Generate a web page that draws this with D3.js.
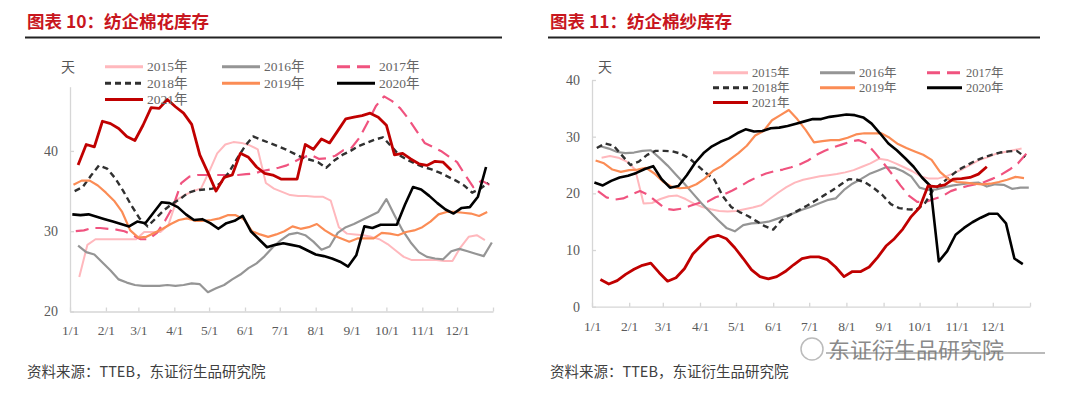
<!DOCTYPE html>
<html><head><meta charset="utf-8">
<script src="https://cdn.jsdelivr.net/npm/d3@7"></script>
<style>body{margin:0;background:#fff}svg{display:block}</style>
</head><body><svg id="c" width="1080" height="398"></svg>
<script>
// ---------------- DATA ----------------
const years = ["2015年","2016年","2017年","2018年","2019年","2020年","2021年"];
// first weekly observation of each year (month, day); later points are weekly
const startDays = [[1,9],[1,8],[1,6],[1,5],[1,4],[1,3],[1,8]];
const monthLabels = ["1/1","2/1","3/1","4/1","5/1","6/1","7/1","8/1","9/1","10/1","11/1","12/1"];
const cottonTicks = [20,30,40];
const yarnTicks = [0,10,20,30,40];
const unitLabel = "天";

// 纺企棉花库存 (days)
const cotton2015 = [24.3,28.3,29.0,29.0,29.0,29.0,29.0,29.0,29.9,29.9,29.9,30.8,33.9,34.5,35.0,35.3,37.4,39.7,40.8,41.1,41.0,40.7,40.2,36.0,35.3,34.9,34.5,34.4,34.4,34.3,34.3,33.8,30.5,29.7,29.6,29.5,29.3,29.0,28.4,27.6,26.8,26.4,26.4,26.4,26.4,26.3,26.3,28.0,29.3,29.5,28.9];
const cotton2016 = [28.2,27.4,27.1,26.1,25.1,24.0,23.6,23.3,23.2,23.2,23.2,23.3,23.2,23.3,23.5,23.4,22.4,22.9,23.3,24.0,24.6,25.4,26.0,26.9,28.0,28.9,29.6,29.8,29.5,28.7,27.7,28.1,29.8,30.5,30.9,31.4,31.9,32.4,34.0,32.0,30.1,28.6,27.4,26.8,26.6,26.5,27.5,27.8,27.5,27.2,26.9,28.6];
const cotton2017 = [30.0,30.1,30.4,30.4,30.3,30.2,30.0,29.5,29.0,29.0,29.8,31.3,33.1,36.0,36.8,37.0,37.0,37.0,37.0,37.0,37.0,37.1,37.2,37.5,37.7,37.9,38.2,38.7,39.2,39.5,39.0,39.1,39.4,40.1,40.4,41.7,43.6,45.6,46.8,46.2,45.3,44.0,42.5,41.0,40.5,40.0,39.3,38.6,37.0,35.5,36.3,35.8];
const cotton2018 = [35.0,35.5,36.9,38.2,37.8,36.6,35.0,33.2,31.6,30.6,31.6,32.6,33.4,34.0,34.8,35.1,35.2,35.3,36.0,37.3,39.0,40.6,41.8,41.4,41.0,40.6,40.2,39.7,39.2,38.9,38.6,37.9,38.8,39.5,40.0,40.6,41.0,41.4,41.7,40.6,39.5,38.9,38.4,38.0,37.7,37.3,36.8,36.3,35.7,34.8,35.3,36.0];
const cotton2019 = [35.8,36.3,36.3,35.7,34.8,33.8,32.4,30.1,29.2,29.3,29.8,30.3,30.9,31.4,31.6,31.3,31.3,31.4,31.6,32.0,32.0,31.5,30.0,29.6,29.3,29.6,30.0,30.6,30.3,30.5,30.9,30.1,29.5,29.1,28.7,29.1,29.1,29.1,29.8,29.7,29.5,29.9,30.1,30.5,31.2,32.1,32.4,32.4,32.3,32.2,31.9,32.4];
const cotton2020 = [32.1,32.0,32.1,31.8,31.5,31.2,30.9,30.6,31.2,31.0,32.3,33.6,33.5,33.0,32.1,31.4,31.5,31.0,30.3,31.0,31.3,31.9,30.0,29.0,28.0,28.3,28.5,28.3,28.1,27.6,27.1,26.9,26.6,26.2,25.6,27.0,30.6,30.4,30.8,30.8,30.8,33.3,35.5,35.2,34.4,33.5,32.7,32.2,32.9,33.0,34.3,38.0];
const cotton2021 = [38.25,40.8,40.5,43.7,43.4,42.8,41.8,41.3,43.2,45.4,45.3,46.4,45.5,44.7,43.3,39.5,37.3,35.0,36.7,37.0,39.7,39.2,38.0,37.2,37.0,36.5,36.5,36.5,40.8,40.2,41.5,41.0,42.5,44.0,44.2,44.4,44.7,44.2,43.2,39.5,39.7,39.0,38.4,38.2,38.7,38.6,37.6];

// 纺企棉纱库存 (days)
const yarn2015 = [26.3,26.6,26.3,25.6,24.2,18.2,18.3,19.0,19.5,19.6,19.0,18.2,17.6,17.2,16.9,16.8,16.9,17.2,17.5,17.9,19.0,20.1,21.1,21.9,22.4,22.7,23.0,23.2,23.4,23.7,24.1,24.7,25.3,26.1,25.9,25.3,24.6,23.9,23.0,22.6,22.6,23.0,23.6,24.3,25.1,25.9,26.4,27.0,27.3,27.6,27.9];
const yarn2016 = [28.3,27.9,27.3,27.1,27.2,27.5,27.6,26.3,24.9,23.3,21.7,20.0,18.3,16.8,15.3,13.9,13.3,14.4,14.7,14.8,15.0,15.5,16.0,16.5,17.1,17.6,18.2,18.8,19.1,20.6,21.7,22.5,23.4,24.0,24.6,24.5,23.9,23.0,21.0,20.6,20.7,21.1,21.4,21.6,21.8,21.9,21.2,21.6,21.5,20.8,21.0,21.0];
const yarn2017 = [20.4,19.3,18.9,19.1,19.8,20.4,19.7,18.5,17.3,17.1,17.3,17.8,18.3,18.5,19.3,19.8,20.5,21.3,22.2,22.9,23.5,23.9,24.2,24.6,25.1,25.8,26.8,27.5,28.1,28.6,29.1,29.4,28.8,27.1,25.3,23.4,21.4,19.6,18.5,18.5,19.0,19.5,20.4,20.9,21.3,21.6,22.0,22.6,23.3,24.2,25.3,27.0];
const yarn2018 = [28.0,28.8,28.4,26.7,25.0,25.6,26.8,27.5,27.5,27.4,27.0,26.2,24.9,23.6,22.4,19.5,17.6,16.7,16.0,15.1,14.2,13.6,15.3,16.2,17.0,17.8,18.7,19.6,20.5,21.5,22.5,22.4,21.9,20.9,19.7,18.1,17.4,17.2,17.1,18.1,20.5,21.7,22.9,24.1,24.9,25.7,26.3,26.8,27.2,27.4,27.5,26.4];
const yarn2019 = [25.8,25.3,24.2,23.8,24.1,24.2,24.5,23.5,22.1,21.2,20.9,21.0,21.6,22.6,24.0,24.8,26.0,27.1,28.4,30.2,31.0,32.9,33.8,34.7,33.1,31.2,29.0,29.2,29.4,29.4,29.8,30.4,30.6,30.6,30.6,29.8,28.7,28.0,27.4,26.8,25.9,23.8,22.5,22.0,21.9,21.7,21.6,21.7,22.0,22.4,22.9,22.7];
const yarn2020 = [21.9,21.4,22.2,22.8,23.1,23.6,24.3,24.8,22.5,21.0,21.3,23.2,25.4,27.1,28.3,29.1,29.7,30.6,31.3,30.9,31.0,31.5,31.6,31.9,32.3,32.7,33.1,33.1,33.5,33.7,33.9,33.8,33.4,32.3,30.6,28.8,27.6,26.2,24.7,22.8,21.3,8.0,9.8,12.7,13.9,14.9,15.7,16.4,16.4,14.7,8.5,7.5];
const yarn2021 = [4.8,4.0,4.6,5.7,6.6,7.3,7.7,6.0,4.5,5.1,6.7,9.3,10.8,12.2,12.6,12.0,10.4,8.5,6.5,5.3,4.9,5.3,6.2,7.4,8.5,8.8,8.8,8.3,7.0,5.3,6.2,6.2,7.0,8.7,10.7,12.0,13.7,15.9,17.5,21.3,21.2,21.5,22.5,22.6,22.8,23.4,24.7];

// ---------------- STYLE ----------------
const styles = [
  {color:"#ffb8bd", width:2,   dash:null},
  {color:"#959595", width:2.2, dash:null},
  {color:"#f0537f", width:2.2, dash:"13,7"},
  {color:"#303030", width:2.4, dash:"6,4"},
  {color:"#fb8c55", width:2.2, dash:null},
  {color:"#000000", width:2.6, dash:null},
  {color:"#c00000", width:2.8, dash:null}
];
const serif = "'Liberation Serif','Times New Roman','Noto Sans CJK SC',serif";
const cjk = "'Noto Sans CJK SC','Noto Sans CJK JP',sans-serif";

const svg = d3.select("#c");

function seriesPoints(values, k){
  const [m,d] = startDays[k];
  return values.map((v,i)=>({date:new Date(2021, m-1, d + 7*i), v}));
}

function drawChart(cfg){
  const g = svg.append("g");
  const x = d3.scaleTime().domain([new Date(2021,0,1), new Date(2022,0,1)]).range([cfg.x0, cfg.x1]);
  const y = d3.scaleLinear().domain(cfg.domain).range([cfg.y0, cfg.y1]);

  // title
  g.append("text").attr("x", cfg.titleX).attr("y", 28)
    .attr("font-family", cjk).attr("font-weight", 700).attr("font-size", 17.5)
    .attr("fill", "#c8161e").text(cfg.title);
  g.append("line").attr("x1", cfg.ruleX0).attr("x2", cfg.ruleX1).attr("y1", 37.5).attr("y2", 37.5)
    .attr("stroke", "#222").attr("stroke-width", 2);

  // axes
  const axisColor = "#d6d6d6";
  const xTickDates = monthLabels.map((s,i)=>new Date(2021,i,1)).concat([new Date(2022,0,1)]);
  const xa = g.append("g").attr("transform", `translate(0,${cfg.y0})`)
    .call(d3.axisBottom(x).tickValues(xTickDates).tickSize(-4).tickSizeOuter(0)
      .tickFormat((d,i)=> i < monthLabels.length ? monthLabels[i] : ""));
  xa.select(".domain").attr("stroke", axisColor).attr("stroke-width", 1.3);
  xa.selectAll(".tick line").attr("stroke", axisColor).attr("stroke-width", 1.3);
  xa.selectAll(".tick text").attr("font-family", serif).attr("font-size", 13.5)
    .attr("fill", "#5a5a5a").attr("dy", "1.55em");

  const ya = g.append("g").attr("transform", `translate(${cfg.x0},0)`)
    .call(d3.axisLeft(y).tickValues(cfg.ticks).tickSize(-4).tickSizeOuter(0).tickPadding(12));
  ya.select(".domain").attr("stroke", axisColor).attr("stroke-width", 1.3);
  ya.selectAll(".tick line").attr("stroke", axisColor).attr("stroke-width", 1.3);
  ya.selectAll(".tick text").attr("font-family", serif).attr("font-size", 14)
    .attr("fill", "#5a5a5a");

  g.append("text").attr("x", cfg.unitX).attr("y", 72).attr("text-anchor","middle")
    .attr("font-family", cjk).attr("font-size", 14).attr("fill", "#555").text(unitLabel);

  // lines
  const line = d3.line().x(p=>x(p.date)).y(p=>y(p.v));
  cfg.series.forEach((vals,k)=>{
    const s = styles[k];
    g.append("path").datum(seriesPoints(vals,k))
      .attr("d", line).attr("fill","none")
      .attr("stroke", s.color).attr("stroke-width", s.width)
      .attr("stroke-dasharray", s.dash)
      .attr("stroke-linejoin","round");
  });

  // legend
  years.forEach((name,k)=>{
    const col = k % 3, row = Math.floor(k / 3);
    const lx = cfg.legX[col], ly = cfg.legY[row];
    const s = styles[k];
    g.append("line").attr("x1", lx).attr("x2", lx + cfg.legLen).attr("y1", ly).attr("y2", ly)
      .attr("stroke", s.color).attr("stroke-width", 3).attr("stroke-dasharray", s.dash);
    g.append("text").attr("x", lx + cfg.legLen + 4).attr("y", ly + 4.5)
      .attr("font-family", serif).attr("font-size", cfg.legFont).attr("fill", "#666").text(name);
  });

  // source
  g.append("text").attr("x", cfg.titleX).attr("y", 377)
    .attr("font-family", cjk).attr("font-size", 14.5).attr("fill", "#404040")
    .text("资料来源：TTEB，东证衍生品研究院");
}

drawChart({
  title:"图表 10：纺企棉花库存", titleX:27, ruleX0:25, ruleX1:502,
  x0:70, x1:493, y0:311.5, y1:86.7, domain:[20,48], ticks:cottonTicks, unitX:68,
  series:[cotton2015,cotton2016,cotton2017,cotton2018,cotton2019,cotton2020,cotton2021],
  legX:[105,222,337], legY:[66.7,83.3,99.5], legLen:38, legFont:13.5
});
drawChart({
  title:"图表 11：纺企棉纱库存", titleX:550, ruleX0:548, ruleX1:1040,
  x0:592, x1:1030, y0:306.7, y1:80, domain:[0,40], ticks:yarnTicks, unitX:605,
  series:[yarn2015,yarn2016,yarn2017,yarn2018,yarn2019,yarn2020,yarn2021],
  legX:[713,820,927], legY:[72.7,87.7,102.5], legLen:35, legFont:12.5
});

// watermark
const wm = svg.append("g");
wm.append("circle").attr("cx",812).attr("cy",349).attr("r",11).attr("fill","none").attr("stroke","#bbb").attr("stroke-width",1.5);
wm.append("text").attr("x",828).attr("y",358).attr("font-family",cjk).attr("font-size",22)
  .attr("fill","#8a8a8a").attr("stroke","#fff").attr("stroke-width",0.6).attr("paint-order","stroke")
  .text("东证衍生品研究院");
wm.append("line").attr("x1",826).attr("x2",1045).attr("y1",353).attr("y2",353)
  .attr("stroke","#777").attr("stroke-width",1.2);
</script></body></html>
